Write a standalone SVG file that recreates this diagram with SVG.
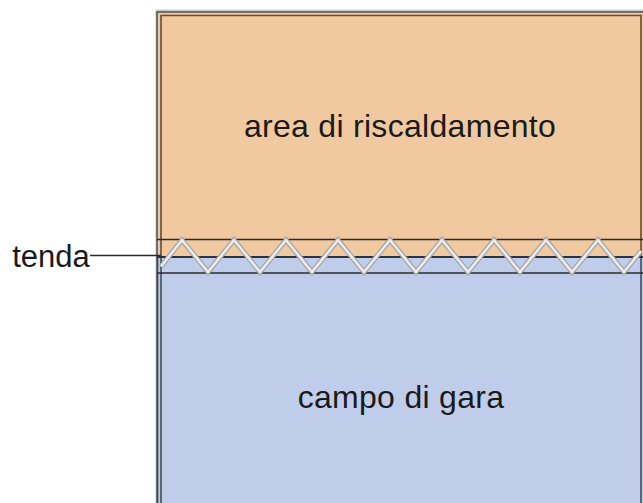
<svg xmlns="http://www.w3.org/2000/svg" width="643" height="503" viewBox="0 0 643 503">
<style>
.lbl{font-family:"Liberation Sans",Arial,sans-serif;fill:#1a1a1a;font-size:32px;text-anchor:middle;letter-spacing:0.3px}
.sep{stroke:#2a2a2a;stroke-width:1.6;fill:none}
.zz1{fill:none;stroke:#a3a3a3;stroke-width:5;stroke-linejoin:miter}
.zz2{fill:none;stroke:#ebebeb;stroke-width:2.6;stroke-linejoin:miter}
</style>
<rect width="643" height="503" fill="#ffffff"/>
<g id="riscaldamento">
<rect x="157" y="11" width="490" height="246" fill="#f1c9a0"/>
<rect x="157" y="11" width="490" height="500" fill="none" stroke="#c9c9c9" stroke-width="3"/>
<rect x="157" y="12" width="490" height="500" fill="none" stroke="#4a4a4a" stroke-width="1.4"/>
<path d="M161,257 V15.5 H641 V257" fill="none" stroke="#6a4b2b" stroke-width="1.6"/>
<text class="lbl" x="400" y="137">area di riscaldamento</text>
</g>
<g id="campo">
<rect x="157.7" y="257" width="489" height="260" fill="#bfcdeb"/>
<path d="M157.7,257 V503" stroke="#4a4a4a" stroke-width="1.4"/>
<path d="M161,257 V503 M641,257 V503" stroke="#454c5e" stroke-width="1.6"/>
<text class="lbl" x="401" y="408">campo di gara</text>
</g>
<g id="tenda">
<line class="sep" x1="157" y1="239.5" x2="643" y2="239.5"/>
<line x1="157" y1="257" x2="643" y2="257" stroke="#2a3242" stroke-width="2.2"/>
<line class="sep" x1="157" y1="273" x2="643" y2="273"/>
<polyline class="zz1" points="161,266.5 182,240 208,272 234,240 260,272 286,240 312,272 338,240 364,272 390,240 416,272 442,240 468,272 494,240 520,272 546,240 572,272 598,240 624,272 641,251"/>
<polyline class="zz2" points="161,266.5 182,240 208,272 234,240 260,272 286,240 312,272 338,240 364,272 390,240 416,272 442,240 468,272 494,240 520,272 546,240 572,272 598,240 624,272 641,251"/>
<text x="51" y="267" font-family="Liberation Sans, Arial, sans-serif" font-size="31" fill="#1a1a1a" text-anchor="middle">tenda</text>
</g>
<g id="connectors">
<line x1="90" y1="255.5" x2="161" y2="255.5" stroke="#2a2a2a" stroke-width="1.5"/>
</g>
</svg>
